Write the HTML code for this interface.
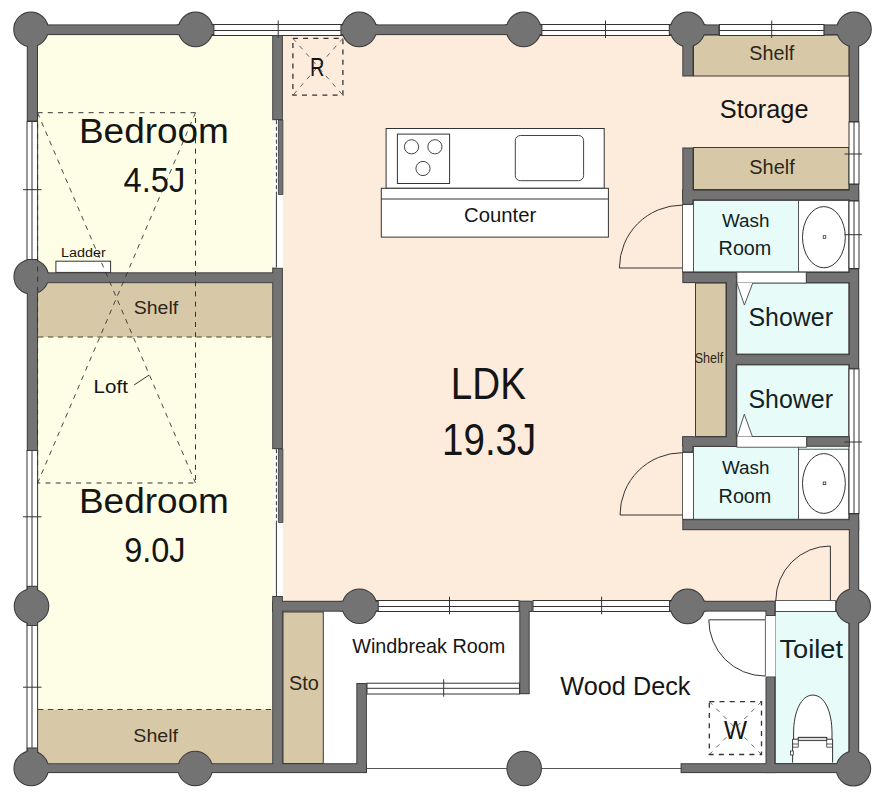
<!DOCTYPE html>
<html><head><meta charset="utf-8">
<style>
html,body{margin:0;padding:0;background:#fff;}
svg{display:block;}
text{font-family:"Liberation Sans",sans-serif;}
</style></head>
<body>
<svg width="886" height="800" viewBox="0 0 886 800">
<rect x="38" y="35" width="235" height="729" fill="#fefee6"/>
<rect x="283" y="35" width="566" height="566" fill="#fdebdc"/>
<rect x="38" y="283.5" width="234.5" height="53.5" fill="#d7c9a7"/>
<rect x="38" y="709.5" width="234.5" height="54" fill="#d7c9a7"/>
<line x1="38" y1="337" x2="272.5" y2="337" stroke="#4a4030" stroke-width="1" stroke-dasharray="5.4 4.5"/>
<line x1="38" y1="709.5" x2="272.5" y2="709.5" stroke="#4a4030" stroke-width="1" stroke-dasharray="5.4 4.5"/>
<rect x="693.5" y="35" width="155.5" height="41" fill="#d7c9a7" stroke="#3a3a3a" stroke-width="1"/>
<rect x="693.5" y="147.5" width="155.5" height="42" fill="#d7c9a7" stroke="#3a3a3a" stroke-width="1"/>
<rect x="695.5" y="283" width="30.5" height="153.5" fill="#d7c9a7" stroke="#3a3a3a" stroke-width="1"/>
<rect x="283" y="612" width="40.3" height="151.5" fill="#d7c9a7" stroke="#3a3a3a" stroke-width="1"/>
<rect x="682.5" y="204.6" width="11" height="67.29999999999998" fill="#fff" stroke="#3a3a3a" stroke-width="0.8"/>
<rect x="693.4" y="200.4" width="155.4" height="71.49999999999997" fill="#e7fcf9"/>
<rect x="693.4" y="200.4" width="105" height="71.49999999999997" fill="none" stroke="#3a3a3a" stroke-width="0.8"/>
<rect x="798.4" y="200.4" width="50.4" height="71.49999999999997" fill="#fff" stroke="#3a3a3a" stroke-width="0.8"/>
<rect x="682.5" y="452.4" width="11" height="66.80000000000007" fill="#fff" stroke="#3a3a3a" stroke-width="0.8"/>
<rect x="693.4" y="446.6" width="155.4" height="72.60000000000002" fill="#e7fcf9"/>
<rect x="693.4" y="446.6" width="105" height="72.60000000000002" fill="none" stroke="#3a3a3a" stroke-width="0.8"/>
<rect x="798.4" y="449.2" width="50.4" height="70.00000000000006" fill="#fff" stroke="#3a3a3a" stroke-width="0.8"/>
<rect x="736.8" y="283" width="112" height="71" fill="#e7fcf9" stroke="#3a3a3a" stroke-width="0.8"/>
<rect x="736.8" y="365" width="112" height="71.5" fill="#e7fcf9" stroke="#3a3a3a" stroke-width="0.8"/>
<rect x="775.3" y="611.5" width="73.5" height="152" fill="#e7fcf9" stroke="#3a3a3a" stroke-width="0.8"/>
<line x1="367" y1="768.5" x2="681" y2="768.5" stroke="#555" stroke-width="1"/>
<rect x="196" y="24.5" width="163" height="11.0" fill="#fff" stroke="#333" stroke-width="1"/>
<line x1="196" y1="30.5" x2="359" y2="30.5" stroke="#333" stroke-width="1"/>
<rect x="524" y="24.5" width="164" height="11.0" fill="#fff" stroke="#333" stroke-width="1"/>
<line x1="524" y1="30.5" x2="688" y2="30.5" stroke="#333" stroke-width="1"/>
<rect x="719.4" y="24.5" width="104.70000000000005" height="11.0" fill="#fff" stroke="#333" stroke-width="1"/>
<line x1="719.4" y1="30.5" x2="824.1" y2="30.5" stroke="#333" stroke-width="1"/>
<rect x="27" y="121.5" width="10.600000000000001" height="155.5" fill="#fff" stroke="#333" stroke-width="1"/>
<line x1="32" y1="121.5" x2="32" y2="277" stroke="#333" stroke-width="1"/>
<rect x="27" y="450.5" width="10.600000000000001" height="155.5" fill="#fff" stroke="#333" stroke-width="1"/>
<line x1="32" y1="450.5" x2="32" y2="606" stroke="#333" stroke-width="1"/>
<rect x="27" y="606" width="10.600000000000001" height="162" fill="#fff" stroke="#333" stroke-width="1"/>
<line x1="32" y1="606" x2="32" y2="768" stroke="#333" stroke-width="1"/>
<rect x="849" y="122" width="10" height="62" fill="#fff" stroke="#333" stroke-width="1"/>
<line x1="854" y1="122" x2="854" y2="184" stroke="#333" stroke-width="1"/>
<rect x="849" y="201" width="10" height="67.5" fill="#fff" stroke="#333" stroke-width="1"/>
<line x1="854" y1="201" x2="854" y2="268.5" stroke="#333" stroke-width="1"/>
<rect x="849" y="368.9" width="10" height="144.60000000000002" fill="#fff" stroke="#333" stroke-width="1"/>
<line x1="854" y1="368.9" x2="854" y2="513.5" stroke="#333" stroke-width="1"/>
<rect x="360" y="600.5" width="159" height="11.0" fill="#fff" stroke="#333" stroke-width="1"/>
<line x1="360" y1="606.5" x2="519" y2="606.5" stroke="#333" stroke-width="1"/>
<rect x="533" y="600.5" width="155" height="11.0" fill="#fff" stroke="#333" stroke-width="1"/>
<line x1="533" y1="606.5" x2="688" y2="606.5" stroke="#333" stroke-width="1"/>
<rect x="367" y="683.2" width="152.5" height="10.799999999999955" fill="#fff" stroke="#333" stroke-width="1"/>
<line x1="367" y1="688.3" x2="519.5" y2="688.3" stroke="#333" stroke-width="1"/>
<defs><g id="wl"><rect x="32.00" y="25.40" width="163.00" height="8.70"/><rect x="360.00" y="25.40" width="163.00" height="8.70"/><rect x="688.00" y="25.40" width="30.30" height="8.70"/><rect x="824.70" y="25.40" width="28.00" height="8.70"/><rect x="27.80" y="30.00" width="9.20" height="90.50"/><rect x="27.80" y="260.00" width="9.20" height="190.00"/><rect x="27.80" y="586.80" width="9.20" height="38.20"/><rect x="27.80" y="748.50" width="9.20" height="19.00"/><rect x="849.80" y="30.00" width="8.40" height="91.00"/><rect x="849.80" y="185.00" width="8.40" height="15.00"/><rect x="849.80" y="269.50" width="8.40" height="98.40"/><rect x="849.80" y="514.50" width="8.40" height="253.00"/><rect x="32.00" y="764.20" width="334.00" height="7.90"/><rect x="681.60" y="764.20" width="171.00" height="7.90"/><rect x="273.20" y="36.00" width="8.70" height="83.20"/><rect x="273.20" y="268.60" width="8.70" height="179.60"/><rect x="273.20" y="597.00" width="8.70" height="175.00"/><rect x="39.00" y="273.30" width="234.50" height="9.00"/><rect x="683.30" y="30.00" width="9.20" height="45.50"/><rect x="683.30" y="148.50" width="9.20" height="51.00"/><rect x="683.30" y="190.60" width="174.90" height="8.80"/><rect x="683.30" y="272.90" width="52.50" height="9.20"/><rect x="807.00" y="272.90" width="51.00" height="9.20"/><rect x="727.00" y="277.00" width="8.80" height="169.00"/><rect x="731.00" y="355.10" width="123.00" height="8.80"/><rect x="683.30" y="437.30" width="52.50" height="8.50"/><rect x="807.30" y="437.30" width="41.50" height="8.50"/><rect x="683.30" y="437.30" width="9.10" height="14.30"/><rect x="683.30" y="190.60" width="9.10" height="13.20"/><rect x="683.30" y="520.20" width="174.90" height="9.00"/><rect x="273.20" y="601.80" width="85.00" height="8.90"/><rect x="520.30" y="601.80" width="11.40" height="9.20"/><rect x="520.30" y="601.80" width="8.40" height="91.40"/><rect x="688.00" y="601.80" width="86.30" height="8.80"/><rect x="766.50" y="601.80" width="7.80" height="13.30"/><rect x="766.50" y="677.30" width="7.80" height="94.80"/><rect x="177.80" y="25.40" width="35.60" height="8.70"/><rect x="341.40" y="25.40" width="35.60" height="8.70"/><rect x="505.80" y="25.40" width="35.60" height="8.70"/><rect x="669.80" y="25.40" width="35.60" height="8.70"/><rect x="341.20" y="601.80" width="36.60" height="8.80"/><rect x="670.00" y="601.80" width="35.20" height="8.80"/><rect x="357.30" y="684.00" width="8.60" height="88.00"/><circle cx="31" cy="29.4" r="16.8"/><circle cx="195.6" cy="29.4" r="16.8"/><circle cx="359.2" cy="29.4" r="16.8"/><circle cx="523.6" cy="29.4" r="16.8"/><circle cx="687.6" cy="29.4" r="16.8"/><circle cx="854" cy="29.4" r="16.8"/><circle cx="31.2" cy="276.7" r="16.8"/><circle cx="31.5" cy="606.2" r="16.8"/><circle cx="359.5" cy="606.2" r="16.8"/><circle cx="687.6" cy="606.4" r="16.8"/><circle cx="853.2" cy="606.4" r="16.8"/><circle cx="31.2" cy="768.4" r="16.8"/><circle cx="195.2" cy="768.5" r="16.8"/><circle cx="524.2" cy="768.5" r="16.8"/><circle cx="853.4" cy="768.6" r="16.8"/></g></defs>
<use href="#wl" fill="#3d3d3d" stroke="#3d3d3d" stroke-width="2"/>
<use href="#wl" fill="#737373"/>
<rect x="276.2" y="120.2" width="6.8" height="147.40000000000003" fill="#fff"/>
<rect x="278.3" y="120.2" width="4.6" height="74.2" fill="#737373" stroke="#3d3d3d" stroke-width="0.8"/>
<line x1="276.4" y1="120.2" x2="276.4" y2="194.4" stroke="#333" stroke-width="1" stroke-dasharray="4 2.5"/>
<line x1="276.4" y1="194.4" x2="276.4" y2="267.6" stroke="#333" stroke-width="1"/>
<rect x="276.2" y="449.2" width="6.8" height="146.8" fill="#fff"/>
<rect x="278.3" y="449.2" width="4.6" height="73.19999999999999" fill="#737373" stroke="#3d3d3d" stroke-width="0.8"/>
<line x1="276.4" y1="449.2" x2="276.4" y2="522.4" stroke="#333" stroke-width="1" stroke-dasharray="4 2.5"/>
<line x1="276.4" y1="522.4" x2="276.4" y2="596" stroke="#333" stroke-width="1"/>
<rect x="736.9" y="272.2" width="69.3" height="10.8" fill="#fff" stroke="#3a3a3a" stroke-width="0.8"/>
<rect x="736.9" y="436.6" width="69.6" height="10.6" fill="#fff" stroke="#3a3a3a" stroke-width="0.8"/>
<path d="M736.9 283.1 L744.4 305.1 L752.7 283.1" fill="#fff" stroke="#444" stroke-width="0.9"/>
<path d="M737.2 436.5 L744.3 414.2 L752.4 436.5" fill="#fff" stroke="#444" stroke-width="0.9"/>
<rect x="775.5" y="600.6" width="60" height="10.8" fill="#fff" stroke="#3a3a3a" stroke-width="0.8"/>
<rect x="765.2" y="616" width="10.2" height="60.3" fill="#fff"/>
<line x1="765.4" y1="616" x2="765.4" y2="676.3" stroke="#666" stroke-width="1"/>
<path d="M619.4 268 A62.9 62.9 0 0 1 682.3 205.1" fill="none" stroke="#333" stroke-width="1"/>
<line x1="619.4" y1="268" x2="682.3" y2="268" stroke="#333" stroke-width="1"/>
<path d="M620 515 A62.3 62.3 0 0 1 682.3 452.7" fill="none" stroke="#333" stroke-width="1"/>
<line x1="620" y1="515" x2="682.3" y2="515" stroke="#333" stroke-width="1"/>
<path d="M775.8 600.6 A54.6 54.6 0 0 1 830.4 546" fill="none" stroke="#333" stroke-width="1"/>
<line x1="830.4" y1="546" x2="830.4" y2="600.6" stroke="#333" stroke-width="1"/>
<path d="M708.8 619.8 A56.2 56.2 0 0 0 765 676" fill="none" stroke="#333" stroke-width="1"/>
<line x1="708.8" y1="619.8" x2="765" y2="619.8" stroke="#777" stroke-width="1.6"/>
<ellipse cx="823.9" cy="237.2" rx="21.4" ry="30.6" fill="#fff" stroke="#333" stroke-width="1"/>
<rect x="823.2" y="235.7" width="2.6" height="2.6" fill="#fff" stroke="#333" stroke-width="0.8"/>
<ellipse cx="823.9" cy="483.5" rx="21.4" ry="29.9" fill="#fff" stroke="#333" stroke-width="1"/>
<rect x="823.2" y="482.0" width="2.6" height="2.6" fill="#fff" stroke="#333" stroke-width="0.8"/>
<path d="M793.6 739.2 L793.6 733 C793.6 712 801 695.1 812.9 695.1 C824.8 695.1 832 712 832 733 L832 739.2" fill="#fff" stroke="#333" stroke-width="1"/>
<path d="M792.6 762.6 L792.6 739.2 L798.3 739.2 L798.3 737.4 L826.7 737.4 L826.7 739.2 L832.6 739.2 L832.6 762.6" fill="#fff" stroke="#333" stroke-width="1"/>
<rect x="798.3" y="737.4" width="28.4" height="3.2" fill="#ddd" stroke="#333" stroke-width="0.9"/>
<path d="M792.6 744 L798.3 744 L798.3 740.6 M792.6 747.2 L798.3 747.2 M826.7 740.6 L826.7 744 L832.6 744 M826.7 747.2 L832.6 747.2 M798.3 747.2 L798.3 744 M826.7 747.2 L826.7 744" fill="none" stroke="#333" stroke-width="0.8"/>
<rect x="790.6" y="751" width="2.7" height="4" fill="#fff" stroke="#333" stroke-width="0.8"/>
<rect x="386.1" y="128.5" width="218.1" height="59.8" fill="#fff" stroke="#333" stroke-width="1"/>
<rect x="397.4" y="134.1" width="52.2" height="49.4" fill="#fff" stroke="#333" stroke-width="1"/>
<circle cx="411.5" cy="146.8" r="7.1" fill="#fff" stroke="#444" stroke-width="1"/>
<circle cx="434.9" cy="146.8" r="7.1" fill="#fff" stroke="#444" stroke-width="1"/>
<circle cx="423" cy="168.5" r="7.1" fill="#fff" stroke="#444" stroke-width="1"/>
<rect x="515.3" y="135.5" width="68.3" height="45.2" rx="5" fill="#fff" stroke="#444" stroke-width="1"/>
<rect x="381.3" y="188.3" width="227.1" height="48.8" fill="#fff" stroke="#333" stroke-width="1"/>
<line x1="381.3" y1="199" x2="608.4" y2="199" stroke="#333" stroke-width="1"/>
<line x1="292.9" y1="38.3" x2="342.9" y2="95.2" stroke="#555" stroke-width="0.9" stroke-dasharray="4.5 5.5"/>
<line x1="342.9" y1="38.3" x2="292.9" y2="95.2" stroke="#555" stroke-width="0.9" stroke-dasharray="4.5 5.5"/>
<rect x="292.9" y="38.3" width="50.0" height="56.900000000000006" fill="none" stroke="#333" stroke-width="1.3" stroke-dasharray="5 5.2"/>
<line x1="709.3" y1="701.6" x2="761.5" y2="754.5" stroke="#555" stroke-width="0.9" stroke-dasharray="4.5 5.5"/>
<line x1="761.5" y1="701.6" x2="709.3" y2="754.5" stroke="#555" stroke-width="0.9" stroke-dasharray="4.5 5.5"/>
<rect x="709.3" y="701.6" width="52.200000000000045" height="52.89999999999998" fill="none" stroke="#333" stroke-width="1.3" stroke-dasharray="5 5.2"/>
<rect x="55.9" y="261.2" width="54.7" height="11.2" fill="#fff" stroke="#333" stroke-width="1"/>
<rect x="37.6" y="112.7" width="157.9" height="370.3" fill="none" stroke="#333" stroke-width="1" stroke-dasharray="5 5.2"/>
<line x1="37.6" y1="112.7" x2="195.5" y2="483" stroke="#333" stroke-width="0.9" stroke-dasharray="5 5.2"/>
<line x1="195.5" y1="112.7" x2="37.6" y2="483" stroke="#333" stroke-width="0.9" stroke-dasharray="5 5.2"/>
<line x1="134.2" y1="384.9" x2="149.1" y2="375.1" stroke="#333" stroke-width="1"/>
<line x1="278.2" y1="20.5" x2="278.2" y2="38" stroke="#333" stroke-width="1"/>
<line x1="605.5" y1="20.5" x2="605.5" y2="38" stroke="#333" stroke-width="1"/>
<line x1="771.7" y1="20.5" x2="771.7" y2="38" stroke="#333" stroke-width="1"/>
<line x1="23" y1="189.7" x2="41.5" y2="189.7" stroke="#333" stroke-width="1"/>
<line x1="23" y1="516.8" x2="41.5" y2="516.8" stroke="#333" stroke-width="1"/>
<line x1="23" y1="687.2" x2="41.5" y2="687.2" stroke="#333" stroke-width="1"/>
<line x1="844.5" y1="154" x2="862" y2="154" stroke="#333" stroke-width="1"/>
<line x1="844.5" y1="234.7" x2="862" y2="234.7" stroke="#333" stroke-width="1"/>
<line x1="844.5" y1="442" x2="862" y2="442" stroke="#333" stroke-width="1"/>
<line x1="449.5" y1="596.7" x2="449.5" y2="614.3" stroke="#333" stroke-width="1"/>
<line x1="601.6" y1="596.7" x2="601.6" y2="614.3" stroke="#333" stroke-width="1"/>
<line x1="443.7" y1="679.3" x2="443.7" y2="696.7" stroke="#333" stroke-width="1"/>
<text x="78.94" y="142.80" font-size="35.45" textLength="149.96" lengthAdjust="spacingAndGlyphs" fill="#151515">Bedroom</text>
<text x="123.48" y="192.30" font-size="34.78" textLength="61.77" lengthAdjust="spacingAndGlyphs" fill="#151515">4.5J</text>
<text x="78.94" y="512.80" font-size="35.45" textLength="149.96" lengthAdjust="spacingAndGlyphs" fill="#151515">Bedroom</text>
<text x="124.14" y="562.30" font-size="34.29" textLength="61.51" lengthAdjust="spacingAndGlyphs" fill="#151515">9.0J</text>
<text x="450.81" y="398.80" font-size="43.48" textLength="75.08" lengthAdjust="spacingAndGlyphs" fill="#151515">LDK</text>
<text x="442.11" y="455.20" font-size="43.57" textLength="94.12" lengthAdjust="spacingAndGlyphs" fill="#151515">19.3J</text>
<text x="464.09" y="221.60" font-size="19.43" textLength="72.17" lengthAdjust="spacingAndGlyphs" fill="#151515">Counter</text>
<text x="719.86" y="117.60" font-size="25.43" textLength="88.61" lengthAdjust="spacingAndGlyphs" fill="#151515">Storage</text>
<text x="749.31" y="60.30" font-size="20.14" textLength="44.97" lengthAdjust="spacingAndGlyphs" fill="#2e2619">Shelf</text>
<text x="749.30" y="173.80" font-size="19.72" textLength="45.48" lengthAdjust="spacingAndGlyphs" fill="#2e2619">Shelf</text>
<text x="722.01" y="226.80" font-size="19.17" textLength="47.50" lengthAdjust="spacingAndGlyphs" fill="#132222">Wash</text>
<text x="718.62" y="255.10" font-size="19.86" textLength="52.71" lengthAdjust="spacingAndGlyphs" fill="#132222">Room</text>
<text x="722.01" y="474.40" font-size="19.17" textLength="47.50" lengthAdjust="spacingAndGlyphs" fill="#132222">Wash</text>
<text x="718.62" y="502.70" font-size="19.86" textLength="52.71" lengthAdjust="spacingAndGlyphs" fill="#132222">Room</text>
<text x="748.48" y="325.80" font-size="25.93" textLength="84.51" lengthAdjust="spacingAndGlyphs" fill="#132222">Shower</text>
<text x="748.48" y="407.90" font-size="26.07" textLength="84.51" lengthAdjust="spacingAndGlyphs" fill="#132222">Shower</text>
<text x="694.63" y="363.20" font-size="14.07" textLength="28.66" lengthAdjust="spacingAndGlyphs" fill="#2e2619">Shelf</text>
<text x="61.05" y="256.90" font-size="13.66" textLength="44.65" lengthAdjust="spacingAndGlyphs" fill="#151515">Ladder</text>
<text x="93.55" y="393.00" font-size="18.76" textLength="34.31" lengthAdjust="spacingAndGlyphs" fill="#151515">Loft</text>
<text x="133.72" y="314.00" font-size="19.17" textLength="44.46" lengthAdjust="spacingAndGlyphs" fill="#2e2619">Shelf</text>
<text x="133.32" y="741.50" font-size="19.17" textLength="44.67" lengthAdjust="spacingAndGlyphs" fill="#2e2619">Shelf</text>
<text x="310.10" y="75.90" font-size="25.36" textLength="14.44" lengthAdjust="spacingAndGlyphs" fill="#151515">R</text>
<text x="723.98" y="738.80" font-size="25.80" textLength="23.02" lengthAdjust="spacingAndGlyphs" fill="#151515">W</text>
<text x="352.20" y="652.50" font-size="19.59" textLength="153.19" lengthAdjust="spacingAndGlyphs" fill="#151515">Windbreak Room</text>
<text x="288.91" y="690.00" font-size="19.57" textLength="29.81" lengthAdjust="spacingAndGlyphs" fill="#2e2619">Sto</text>
<text x="560.37" y="695.00" font-size="26.62" textLength="130.14" lengthAdjust="spacingAndGlyphs" fill="#151515">Wood Deck</text>
<text x="779.42" y="657.50" font-size="26.21" textLength="63.54" lengthAdjust="spacingAndGlyphs" fill="#132222">Toilet</text>
</svg>
</body></html>
